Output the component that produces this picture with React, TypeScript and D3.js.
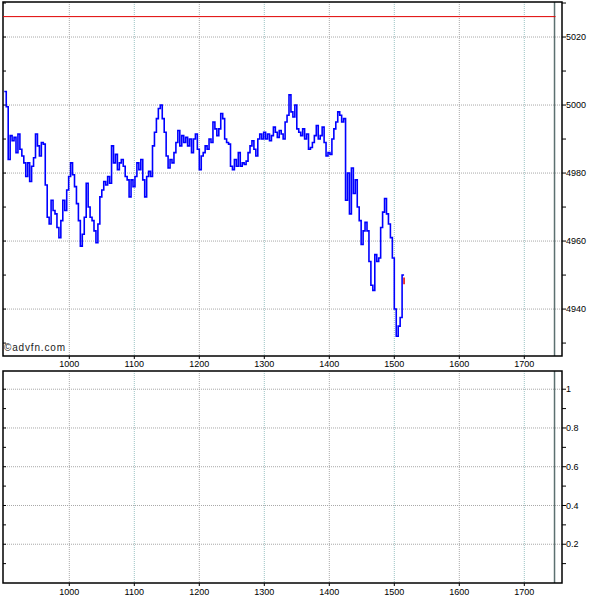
import React from "react";
import * as d3 from "d3";

// price series sampled every 3 time units starting at 900
const START_T = 900;
const STEP_T = 3;
const prices: number[] = [
  5004, 4999.5, 4984, 4991, 4989.5, 4990.5, 4986, 4991.5, 4987, 4985,
  4983, 4979, 4983, 4977.5, 4982, 4984.5, 4991.5, 4988, 4985, 4989,
  4988.5, 4976.5, 4967, 4965, 4972, 4969, 4968, 4964, 4961, 4966,
  4972, 4969, 4975, 4979, 4983, 4979.5, 4976, 4971, 4966, 4958.5,
  4962, 4967, 4977, 4970, 4967, 4966, 4963, 4959.5, 4965, 4973,
  4975, 4977.5, 4976.5, 4979, 4977, 4988, 4983, 4985.5, 4981, 4983,
  4984, 4982, 4979, 4978, 4973, 4978, 4976, 4979, 4983, 4981,
  4984, 4978, 4973, 4979, 4980.5, 4979, 4988, 4992, 4996, 4999,
  5000, 4996, 4992, 4985, 4981.5, 4984, 4983, 4986, 4989, 4992.5,
  4988, 4991, 4989, 4990.5, 4988, 4990, 4986, 4990, 4991.5, 4987,
  4981, 4985, 4986, 4988, 4987, 4990, 4989, 4995, 4993, 4991,
  4993, 4997.5, 4996, 4990, 4989, 4988.5, 4982, 4981, 4984, 4982,
  4986, 4982, 4983, 4982.5, 4983.5, 4986, 4988, 4989.5, 4987, 4985,
  4990, 4991.5, 4990, 4992, 4990, 4991.5, 4989.5, 4991, 4993.5, 4992,
  4990.5, 4992.5, 4991.5, 4990, 4995, 4997, 5003, 4998, 4996.5, 5000,
  4993, 4992, 4991, 4993, 4990, 4991.5, 4987, 4987.5, 4989, 4991,
  4994, 4990, 4991, 4993.5, 4989, 4985, 4986, 4985.5, 4990, 4993,
  4995, 4998, 4997, 4995, 4996, 4972, 4980, 4968, 4981.5, 4974,
  4978, 4970, 4966, 4959, 4963, 4965.5, 4963, 4954, 4947, 4945.5,
  4956, 4954, 4955, 4964, 4968.5, 4972.5, 4968, 4965, 4961, 4955,
  4940, 4932, 4935, 4937.5, 4950,
];
const lastBar = { t: 1515, low: 4947.3, high: 4949.3 };
const refLevel = 5026;
const markerT = 1746.5;

const xTicks = [1000, 1100, 1200, 1300, 1400, 1500, 1600, 1700];
const topMajor = [4940, 4960, 4980, 5000, 5020];
const topMinor = [4930, 4940, 4950, 4960, 4970, 4980, 4990, 5000, 5010, 5020, 5030];
const botMajor = [0.2, 0.4, 0.6, 0.8, 1];
const botMajorLabels = ["0.2", "0.4", "0.6", "0.8", "1"];
const botMinor = [0.1, 0.2, 0.3, 0.4, 0.5, 0.6, 0.7, 0.8, 0.9, 1.0];

const L = 3, R = 562;
const T1 = 2, B1 = 356;
const T2 = 371, B2 = 583;

export default function App() {
  const x = d3.scaleLinear().domain([898, 1758]).range([L, R]);
  const y1 = d3.scaleLinear().domain([4926.2, 5030.3]).range([B1, T1]);
  const y2 = d3.scaleLinear().domain([0, 1.094]).range([B2, T2]);

  const pts = prices.map((v, i) => [START_T + i * STEP_T, v] as [number, number]);
  const line = d3
    .line<[number, number]>()
    .x((d) => x(d[0]))
    .y((d) => y1(d[1]))
    .curve(d3.curveStepAfter);
  const lastPt = pts[pts.length - 1];
  const pathD = line([...pts, [lastBar.t, lastPt[1]]]);

  const font = "'Liberation Sans', Arial, sans-serif";
  const grid = (i: number) => (i % 2 === 0 ? "#a8a8a8" : "#9cc4c4");

  const panel = (top: number, bottom: number, ys: d3.ScaleLinear<number, number>, major: number[], labels: string[], minor: number[], xLabelY: number) => (
    <g>
      {xTicks.map((t, i) => (
        <line key={"vg" + t} x1={x(t)} x2={x(t)} y1={top} y2={bottom} stroke={grid(i)} strokeWidth={1} strokeDasharray="1,1" />
      ))}
      {major.map((v) => (
        <line key={"hg" + v} x1={L} x2={R} y1={ys(v)} y2={ys(v)} stroke="#a8a8a8" strokeWidth={1} strokeDasharray="1,1" />
      ))}
      <line x1={x(markerT)} x2={x(markerT)} y1={top} y2={bottom} stroke="#5c7070" strokeWidth={1.5} />
      {minor.map((v) => (
        <g key={"mt" + v}>
          <line x1={L} x2={L + 3} y1={ys(v)} y2={ys(v)} stroke="#000" strokeWidth={1} />
          <line x1={R} x2={R + 4} y1={ys(v)} y2={ys(v)} stroke="#000" strokeWidth={1} />
        </g>
      ))}
      {major.map((v, i) => (
        <text key={"yl" + v} x={R + 4} y={ys(v)} dy="0.35em" fontSize={9} fontFamily={font} fill="#000">
          {labels[i]}
        </text>
      ))}
      {xTicks.map((t) => (
        <g key={"xt" + t}>
          <line x1={x(t)} x2={x(t)} y1={bottom} y2={bottom + 3} stroke="#000" strokeWidth={1} />
          <text x={x(t)} y={xLabelY} textAnchor="middle" fontSize={9} fontFamily={font} fill="#000">
            {t}
          </text>
        </g>
      ))}
      <rect x={L} y={top} width={R - L} height={bottom - top} fill="none" stroke="#000" strokeWidth={1.5} />
    </g>
  );

  return (
    <svg width={600} height={600} style={{ position: "absolute", left: 0, top: 0, background: "#fff" }}>
      <rect x={0} y={0} width={600} height={600} fill="#fff" />
      {panel(T1, B1, y1, topMajor, topMajor.map(String), topMinor, 367)}
      {panel(T2, B2, y2, botMajor, botMajorLabels, botMinor, 595)}
      <line x1={L} x2={x(markerT) + 1} y1={y1(refLevel)} y2={y1(refLevel)} stroke="#e00000" strokeWidth={1} />
      <path d={pathD ?? ""} fill="none" stroke="#0000ff" strokeWidth={1.6} />
      <line x1={x(lastBar.t)} x2={x(lastBar.t)} y1={y1(lastBar.low)} y2={y1(lastBar.high)} stroke="#e00000" strokeWidth={1.5} />
      <text x={4} y={351} fontSize={10} fontFamily={font} fill="#222" textLength={61} lengthAdjust="spacing">
        ©advfn.com
      </text>
    </svg>
  );
}
